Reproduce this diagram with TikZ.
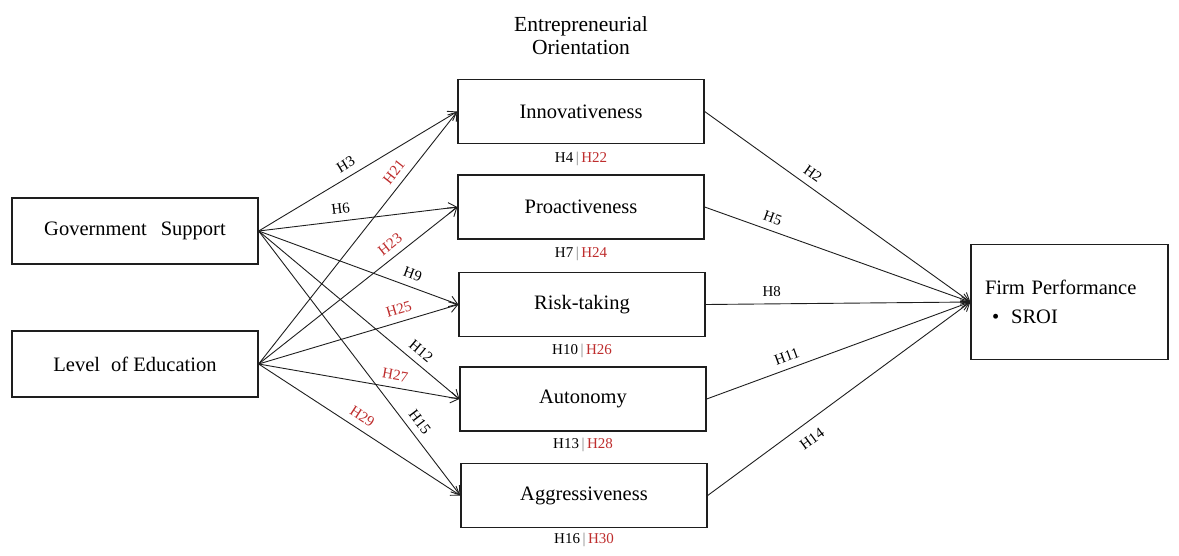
\documentclass[tikz,border=0pt]{standalone}
\usepackage{fontspec}
\setmainfont{Liberation Serif}
\usetikzlibrary{arrows.meta}
\definecolor{hred}{RGB}{190,45,45}
\definecolor{ink}{RGB}{30,30,30}
\newcommand\pairsep{\hspace{2.5pt}{\color{gray}|}\hspace{2.5pt}}
\begin{document}
\begin{tikzpicture}[x=1pt,y=-1pt,
  box/.style={draw=ink, line width=1.3pt, minimum width=246pt, minimum height=64pt,
    inner sep=0pt, font=\fontsize{20.5}{24}\selectfont},
  link/.style={draw=ink, line width=0.9pt,
    -{Straight Barb[length=8pt,width=11pt,line width=0.9pt]}},
  hyp/.style={font=\fontsize{15}{17}\selectfont, sloped, inner sep=2pt, above=5pt},
  hypb/.style={font=\fontsize{15}{17}\selectfont, sloped, inner sep=2pt, below=9pt},
  hr/.style={text=hred},
  pair/.style={font=\fontsize{15}{17}\selectfont, inner sep=1pt}
]
\useasboundingbox (0,0) rectangle (1179,555);

% antecedents
\node[box, minimum height=66pt] (gs) at (135,231) {Government\hspace{9pt} Support};
\node[box, minimum height=66pt] (le) at (135,364) {Level\hspace{6pt} of Education};

% entrepreneurial orientation dimensions
\node[font=\fontsize{21.5}{23}\selectfont, align=center] (eo) at (581,36) {Entrepreneurial\\Orientation};
\node[box] (inn) at (581,111.5) {Innovativeness};
\node[box] (pro) at (581,207) {Proactiveness};
\node[box] (risk) at (582,304.5) {Risk-taking};
\node[box] (aut) at (583,399) {Autonomy};
\node[box] (agg) at (584,495.5) {Aggressiveness};

% outcome
\node[box, minimum width=197pt, minimum height=115pt, text width=169pt, align=left,
  inner xsep=14pt, font=\fontsize{20.5}{29}\selectfont] (fp) at (1069.5,302)
  {Firm Performance\\\hspace*{7pt}\textbullet\hspace{12pt}SROI};

% mediation hypothesis labels
\node[pair] (p1) at (581,159) {H4\pairsep{\color{hred}H22}};
\node[pair] (p2) at (581,254) {H7\pairsep{\color{hred}H24}};
\node[pair] (p3) at (582,351) {H10\pairsep{\color{hred}H26}};
\node[pair] (p4) at (583,445) {H13\pairsep{\color{hred}H28}};
\node[pair] (p5) at (584,540) {H16\pairsep{\color{hred}H30}};

% government support paths
\draw[link] (gs.east) -- node[hyp, pos=0.47] {H3} (inn.west);
\draw[link] (gs.east) -- node[hyp, pos=0.42] {H6} (pro.west);
\draw[link] (gs.east) -- node[hyp, pos=0.75] {H9} (risk.west);
\draw[link] (gs.east) -- node[hyp, pos=0.77] {H12} (aut.west);
\draw[link] (gs.east) -- node[hyp, pos=0.75] {H15} (agg.west);

% level of education paths
\draw[link] (le.east) -- node[hyp, hr, pos=0.73] {H21} (inn.west);
\draw[link] (le.east) -- node[hyp, hr, pos=0.70] {H23} (pro.west);
\draw[link] (le.east) -- node[hyp, hr, pos=0.72] {H25} (risk.west);
\draw[link] (le.east) -- node[hyp, hr, pos=0.67] {H27} (aut.west);
\draw[link] (le.east) -- node[hyp, hr, pos=0.48] {H29} (agg.west);

% paths to firm performance
\draw[link] (inn.east) -- node[hyp, pos=0.38] {H2} (fp.west);
\draw[link] (pro.east) -- node[hyp, pos=0.24] {H5} (fp.west);
\draw[link] (risk.east) -- node[hyp, pos=0.25] {H8} (fp.west);
\draw[link] (aut.east) -- node[hyp, pos=0.32] {H11} (fp.west);
\draw[link] (agg.east) -- node[hypb, pos=0.36] {H14} (fp.west);
\end{tikzpicture}
\end{document}
